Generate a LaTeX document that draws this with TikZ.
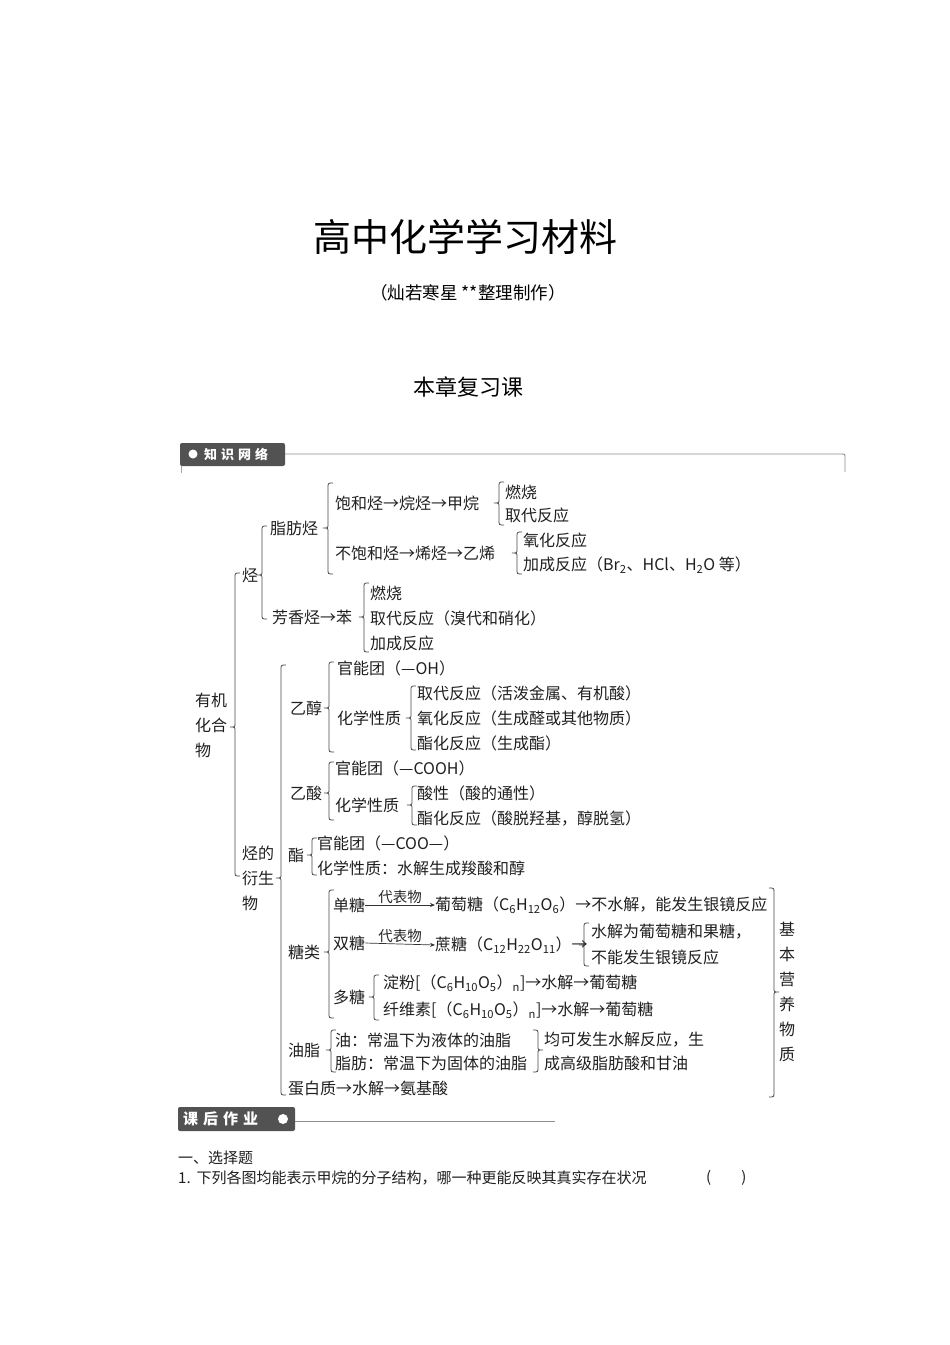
\documentclass[tikz,border=0pt]{standalone}
\usepackage{fontspec}
\setmainfont{Noto Sans CJK SC}
\usetikzlibrary{arrows.meta}

% left brace: x, top, tip, bottom
\newcommand{\lbrc}[4]{\draw[brc] (#1+5,#2) .. controls (#1,#2) .. (#1,#2+5) -- (#1,#3-4) .. controls (#1,#3) .. (#1-5,#3) .. controls (#1,#3) .. (#1,#3+4) -- (#1,#4-5) .. controls (#1,#4) .. (#1+5,#4);}
% right brace: x, top, tip, bottom
\newcommand{\rbrc}[4]{\draw[brc] (#1-5,#2) .. controls (#1,#2) .. (#1,#2+5) -- (#1,#3-4) .. controls (#1,#3) .. (#1+5,#3) .. controls (#1,#3) .. (#1,#3+4) -- (#1,#4-5) .. controls (#1,#4) .. (#1-5,#4);}

\begin{document}
\begin{tikzpicture}[x=1pt, y=-1pt,
  txt/.style={anchor=west, inner sep=0pt, text=black!88, font=\fontsize{16}{25}\selectfont},
  small/.style={inner sep=0pt, text=black!85, font=\fontsize{14.5}{15}\selectfont},
  brc/.style={draw=black!72, line width=0.8pt},
  tab/.style={fill=black!68, rounded corners=2pt},
  tabtxt/.style={anchor=west, inner sep=0pt, text=white, font=\bfseries},
  rule/.style={draw=black!45, line width=0.9pt},
  arr/.style={-{Stealth[length=5pt,width=4pt]}, draw=black!80, line width=0.7pt}
]
\useasboundingbox (0,0) rectangle (950,1345);

% Heading
\node[inner sep=0pt, font=\fontsize{38}{40}\selectfont] (title) at (465,237) {高中化学学习材料};
\node[inner sep=0pt, font=\fontsize{17.5}{19}\selectfont] (maker) at (468,293) {（灿若寒星 **整理制作）};
\node[inner sep=0pt, font=\fontsize{22}{24}\selectfont] (chap) at (468,387) {本章复习课};

% Tab: knowledge network
\fill[tab] (180,443) rectangle (285,466);
\fill[white] (193,454) circle (4.5);
\node[tabtxt, font=\fontsize{13}{15}\selectfont\bfseries] (zswl) at (204,454) {知\hspace{4pt}识\hspace{4pt}网\hspace{4pt}络};
\draw[rule] (285,454) -- (841,454) .. controls (845,454) .. (845,458) -- (845,472);
\draw[draw=black!35, line width=0.6pt] (181,466) -- (181,473);

% Hydrocarbons
\node[txt] (zft) at (270,528) {脂肪烃};
\node[txt] (bht) at (335,503) {饱和烃→烷烃→甲烷};
\node[txt] (rs1) at (505,492) {燃烧};
\node[txt] (qd1) at (505,515) {取代反应};
\node[txt] (bbht) at (335,553) {不饱和烃→烯烃→乙烯};
\node[txt] (yh1) at (523,540) {氧化反应};
\node[txt] (jc1) at (523,565) {加成反应（Br\textsubscript{2}、HCl、H\textsubscript{2}O 等）};
\node[txt] (ting) at (242,575) {烃};
\node[txt] (fxt) at (272,617) {芳香烃→苯};
\node[txt] (rs2) at (370,593) {燃烧};
\node[txt] (qd2) at (370,618) {取代反应（溴代和硝化）};
\node[txt] (jc2) at (370,643) {加成反应};

% Organic compounds
\node[txt, align=left] (yjhhw) at (195,725) {有机\\化合\\物};

% Ethanol
\node[txt] (gnt1) at (337,668) {官能团（—OH）};
\node[txt] (yc) at (290,708) {乙醇};
\node[txt] (hx1) at (337,718) {化学性质};
\node[txt] (qd3) at (417,693) {取代反应（活泼金属、有机酸）};
\node[txt] (yh2) at (417,718) {氧化反应（生成醛或其他物质）};
\node[txt] (zh1) at (417,743) {酯化反应（生成酯）};

% Acetic acid
\node[txt] (gnt2) at (335,768) {官能团（—COOH）};
\node[txt] (ys) at (290,793) {乙酸};
\node[txt] (hx2) at (335,805) {化学性质};
\node[txt] (sx) at (417,793) {酸性（酸的通性）};
\node[txt] (zh2) at (417,818) {酯化反应（酸脱羟基，醇脱氢）};

% Ester
\node[txt] (zhi) at (288,855) {酯};
\node[txt] (gnt3) at (317,843) {官能团（—COO—）};
\node[txt] (hx3) at (317,868) {化学性质：水解生成羧酸和醇};
\node[txt, align=left] (tdys) at (242,878) {烃的\\衍生\\物};

% Sugars
\node[txt] (dant) at (333,905) {单糖};
\node[txt] (ptt) at (435,905) {葡萄糖（C\textsubscript{6}H\textsubscript{12}O\textsubscript{6}）→不水解，能发生银镜反应};
\node[txt] (shuangt) at (333,943) {双糖};
\node[txt] (zt) at (435,945) {蔗糖（C\textsubscript{12}H\textsubscript{22}O\textsubscript{11}）→};
\node[txt] (sj1) at (591,932) {水解为葡萄糖和果糖，};
\node[txt] (bn) at (591,957) {不能发生银镜反应};
\node[txt] (tl) at (288,952) {糖类};
\node[txt] (duot) at (333,997) {多糖};
\node[txt] (df) at (383,983) {淀粉[（C\textsubscript{6}H\textsubscript{10}O\textsubscript{5}）\textsubscript{n}]→水解→葡萄糖};
\node[txt] (xws) at (383,1010) {纤维素[（C\textsubscript{6}H\textsubscript{10}O\textsubscript{5}）\textsubscript{n}]→水解→葡萄糖};

\draw[arr] (dant.east) -- (ptt.west) node[small, midway, above=1pt] {代表物};
\draw[arr] (shuangt.east) -- (zt.west) node[small, midway, above=1pt] {代表物};

% Fats and proteins
\node[txt] (yz) at (288,1050) {油脂};
\node[txt] (you) at (335,1040) {油：常温下为液体的油脂};
\node[txt] (zf) at (335,1063) {脂肪：常温下为固体的油脂};
\node[txt] (jk) at (544,1040) {均可发生水解反应，生};
\node[txt] (cg) at (544,1063) {成高级脂肪酸和甘油};
\node[txt] (dbz) at (288,1088) {蛋白质→水解→氨基酸};
\node[txt, anchor=center, align=center] (jbyy) at (787,992) {基\\本\\营\\养\\物\\质};

% Braces
\foreach \xa/\ya/\yb/\yc in {499/482/503/525, 517/532/553/574, 328/483/528/574,
  262/526/575/619, 364/583/617/652, 235/573/727/876, 329/662/708/752,
  411/686/718/750, 281/665/878/1095, 329/762/793/820, 412/786/805/825,
  312/838/855/875, 329/890/952/1018, 584/923/945/966, 374/975/997/1020,
  331/1030/1050/1072}
  \lbrc{\xa}{\ya}{\yb}{\yc};
\rbrc{538}{1030}{1050}{1072}
\rbrc{774}{888}{992}{1097}

% Tab: homework
\fill[tab] (178,1107) rectangle (295,1131);
\node[tabtxt, font=\fontsize{15}{17}\selectfont\bfseries] (khzy) at (183,1119) {课\hspace{5pt}后\hspace{5pt}作\hspace{5pt}业};
\fill[white] (283,1119) circle (5);
\draw[rule] (295,1121) -- (555,1121);

\node[txt, font=\fontsize{15}{17}\selectfont] (xzt) at (178,1158) {一、选择题};
\node[txt, font=\fontsize{15}{17}\selectfont] (q1) at (178,1178) {1.\hspace{6pt}下列各图均能表示甲烷的分子结构，哪一种更能反映其真实存在状况};
\node[txt, font=\fontsize{15}{17}\selectfont] (q1ans) at (706,1178) {(\hspace{30pt})};
\end{tikzpicture}
\end{document}
